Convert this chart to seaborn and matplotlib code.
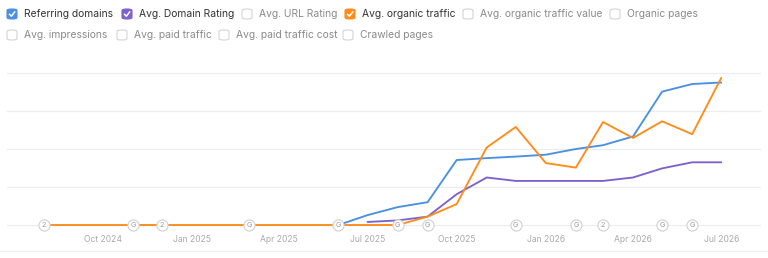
import pandas as pd
import seaborn as sns
import matplotlib.pyplot as plt
from matplotlib.patches import FancyBboxPatch
from matplotlib.lines import Line2D

# dados (escala relativa, 1 = uma linha de grade)
months_orange = pd.date_range('2024-08-01', '2026-07-01', freq='MS')
organic_traffic = [0, 0, 0, 0, 0, 0, 0, 0, 0, 0, 0, 0, 0,
                   0.22, 0.55, 2.04, 2.58, 1.63, 1.51, 2.71, 2.29, 2.73, 2.39, 3.87]

months_blue = pd.date_range('2025-06-01', '2026-07-01', freq='MS')
referring_domains = [0, 0.26, 0.47, 0.60, 1.71, 1.76, 1.80, 1.85, 2.00, 2.10, 2.33, 3.51, 3.71, 3.75]

months_purple = pd.date_range('2025-07-01', '2026-07-01', freq='MS')
domain_rating = [0.08, 0.12, 0.22, 0.81, 1.25, 1.16, 1.16, 1.16, 1.16, 1.25, 1.49, 1.65, 1.65]

# anotacoes (G = google update, 2 = duas anotacoes)
note_dates = ['2024-08-01', '2024-11-01', '2024-12-01', '2025-03-01', '2025-06-01', '2025-08-01',
              '2025-09-01', '2025-12-01', '2026-02-01', '2026-03-01', '2026-05-01', '2026-06-01']
note_labels = ['2', 'G', '2', 'G', 'G', 'G', 'G', 'G', 'G', '2', 'G', 'G']

tick_dates = ['2024-10-01', '2025-01-01', '2025-04-01', '2025-07-01',
              '2025-10-01', '2026-01-01', '2026-04-01', '2026-07-01']
tick_labels = ['Oct 2024', 'Jan 2025', 'Apr 2025', 'Jul 2025',
               'Oct 2025', 'Jan 2026', 'Apr 2026', 'Jul 2026']

legend_row1 = ['Referring domains', 'Avg. Domain Rating', 'Avg. URL Rating', 'Avg. organic traffic',
               'Avg. organic traffic value', 'Organic pages']
legend_row2 = ['Avg. impressions', 'Avg. paid traffic', 'Avg. paid traffic cost', 'Crawled pages']

blue = '#4a90e2'
purple = '#7e62cc'
orange = '#ff8c1a'

sns.set_style('white')
plt.rcParams['font.family'] = ['Inter', 'DejaVu Sans']

W, H = 768, 258
fig = plt.figure(figsize=(W / 100, H / 100), dpi=100)
ax = fig.add_axes([7 / W, 33 / H, 753 / W, 152 / H])

df_blue = pd.DataFrame({'date': months_blue, 'value': referring_domains})
df_purple = pd.DataFrame({'date': months_purple, 'value': domain_rating})
df_orange = pd.DataFrame({'date': months_orange, 'value': organic_traffic})

for y in [0, 1, 2, 3, 4]:
    ax.axhline(y, color='#ececec', lw=0.8, zorder=0, clip_on=False)

sns.lineplot(data=df_blue, x='date', y='value', color=blue, lw=1.35, ax=ax, zorder=3)
sns.lineplot(data=df_purple, x='date', y='value', color=purple, lw=1.35, ax=ax, zorder=2)
sns.lineplot(data=df_orange, x='date', y='value', color=orange, lw=1.35, ax=ax, zorder=4)
for l in ax.lines:
    l.set_clip_on(False)

ax.set_xlim(pd.Timestamp('2024-06-24'), pd.Timestamp('2026-08-10'))
ax.set_ylim(0, 4)

for d, t in zip(note_dates, note_labels):
    ax.plot(pd.Timestamp(d), 0, 'o', ms=8, mfc='white', mec='#d0d0d0', mew=0.8,
            zorder=6, clip_on=False)
    ax.text(pd.Timestamp(d), 0, t, ha='center', va='center', fontsize=5.2,
            color='#999999', zorder=7, clip_on=False)

ax.set_xticks([pd.Timestamp(d) for d in tick_dates])
ax.set_xticklabels(tick_labels, fontsize=6.2, color='#aaaaaa')
ax.tick_params(axis='x', length=0, pad=7)
ax.set_yticks([])
ax.set_xlabel('')
ax.set_ylabel('')
sns.despine(ax=ax, left=True, bottom=True)

# linha separadora inferior
fig.add_artist(Line2D([0, 1], [1 - 251 / H, 1 - 251 / H], color='#eeeeee', lw=0.8,
                      transform=fig.transFigure))


def checkbox(x, y, label, color=None):
    s = 10
    fy = 1 - y / H
    box = FancyBboxPatch(((x - s / 2) / W, 1 - (y + s / 2) / H), s / W, s / H,
                         boxstyle='round,pad=0,rounding_size=0.006',
                         transform=fig.transFigure,
                         facecolor=color if color else 'white',
                         edgecolor=color if color else '#d4d4d4', lw=0.8)
    fig.add_artist(box)
    if color:
        fig.add_artist(Line2D([(x - 2.6) / W, (x - 0.6) / W, (x + 2.8) / W],
                              [1 - (y + 0.2) / H, 1 - (y + 2.2) / H, 1 - (y - 2.2) / H],
                              color='white', lw=1.1, transform=fig.transFigure))
    fig.text((x + 12) / W, fy, label, ha='left', va='center', fontsize=7.4,
             color='#333333' if color else '#8a8a8a')


row1_x = [12, 127, 247, 350, 468, 615]
row1_colors = [blue, purple, None, orange, None, None]
for x, lab, c in zip(row1_x, legend_row1, row1_colors):
    checkbox(x, 14, lab, c)

row2_x = [12, 122, 224, 348]
for x, lab in zip(row2_x, legend_row2):
    checkbox(x, 35, lab)

fig.savefig('out.png', dpi=100)
